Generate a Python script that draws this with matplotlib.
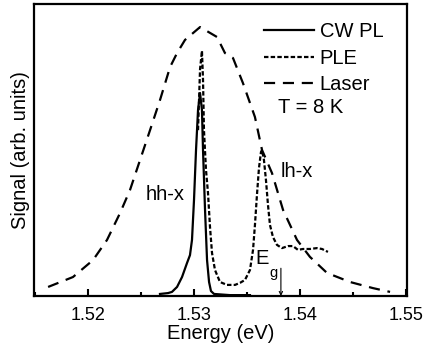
import numpy as np
import matplotlib
matplotlib.use("Agg")
import matplotlib.pyplot as plt
from matplotlib.ticker import MultipleLocator

plt.rcParams['font.family'] = ['Liberation Sans', 'DejaVu Sans']

# CW photoluminescence (solid)
pl_energy = [1.52679, 1.52755, 1.52792, 1.52840, 1.52887, 1.52934, 1.52962,
             1.52981, 1.53000, 1.53019, 1.53038, 1.53057, 1.53075, 1.53085,
             1.53104, 1.53123, 1.53142, 1.53160, 1.53189, 1.53340, 1.53528]
pl_signal = [0.007, 0.010, 0.014, 0.031, 0.065, 0.113, 0.140,
             0.192, 0.329, 0.500, 0.637, 0.695, 0.637, 0.500,
             0.295, 0.123, 0.048, 0.017, 0.007, 0.003, 0.003]

# PLE (short dashes)
ple_energy = [1.53038, 1.53057, 1.53075, 1.53085, 1.53094, 1.53113, 1.53132,
              1.53151, 1.53170, 1.53198, 1.53245, 1.53311, 1.53387, 1.53434,
              1.53481, 1.53528, 1.53557, 1.53575, 1.53594, 1.53613, 1.53632,
              1.53642, 1.53660, 1.53679, 1.53698, 1.53717, 1.53745, 1.53783,
              1.53830, 1.53887, 1.53934, 1.53981, 1.54028, 1.54094, 1.54160,
              1.54208, 1.54264]
ple_signal = [0.568, 0.777, 0.840, 0.740, 0.568, 0.432, 0.353,
              0.236, 0.147, 0.089, 0.048, 0.038, 0.038, 0.045,
              0.055, 0.089, 0.158, 0.243, 0.346, 0.438, 0.493,
              0.500, 0.466, 0.397, 0.312, 0.243, 0.202, 0.175,
              0.164, 0.171, 0.171, 0.158, 0.161, 0.161, 0.164,
              0.161, 0.151]

# laser spectrum (long dashes)
laser_energy = [1.51623, 1.51858, 1.52047, 1.52179, 1.52302, 1.52396, 1.52491,
                1.52585, 1.52679, 1.52774, 1.52840, 1.52915, 1.53057, 1.53217,
                1.53292, 1.53368, 1.53462, 1.53575, 1.53642, 1.53736, 1.53840,
                1.53972, 1.54094, 1.54255, 1.54472, 1.54689, 1.54850]
laser_signal = [0.031, 0.065, 0.123, 0.192, 0.284, 0.363, 0.466,
                0.568, 0.671, 0.784, 0.832, 0.877, 0.921, 0.887,
                0.832, 0.815, 0.729, 0.613, 0.500, 0.421, 0.295,
                0.192, 0.134, 0.079, 0.048, 0.027, 0.014]

eg_energy = 1.5382

fig = plt.figure(figsize=(4.27, 3.49), dpi=100)
ax = fig.add_axes([34 / 427, 1 - 296 / 349, 373 / 427, 292 / 349])

lw = 1.6
ax.plot(pl_energy, pl_signal, color='black', lw=lw, ls='-', label='CW PL')
ax.plot(ple_energy, ple_signal, color='black', lw=lw, ls=(0, (2, 1)),
        label='PLE')
ax.plot(laser_energy, laser_signal, color='black', lw=lw, ls=(0, (5, 3.5)),
        label='Laser')

ax.set_xlim(1.5149, 1.5501)
ax.set_ylim(0, 1)
ax.xaxis.set_minor_locator(MultipleLocator(0.005))
ax.set_xticks([1.52, 1.53, 1.54, 1.55])
ax.set_xticklabels(['1.52', '1.53', '1.54', '1.55'])
ax.tick_params(axis='x', which='major', direction='in', length=5, width=1.5,
               labelsize=13, pad=8)
ax.tick_params(axis='x', which='minor', direction='in', length=3, width=1.5)
ax.set_yticks([])
for sp in ax.spines.values():
    sp.set_linewidth(1.6)

ax.set_xlabel('Energy (eV)', fontsize=14.5, labelpad=0)
ax.set_ylabel('Signal (arb. units)', fontsize=14.5, labelpad=3)

leg = ax.legend(loc='upper right', bbox_to_anchor=(0.936, 0.938), frameon=False,
                fontsize=14.5, handlelength=2.5, handletextpad=0.25,
                labelspacing=0.37, borderpad=0, borderaxespad=0)

ax.text(1.5410, 0.647, 'T = 8 K', fontsize=14.5, ha='center', va='center')
ax.text(1.52726, 0.346, 'hh-x', fontsize=14.5, ha='center', va='center')
ax.text(1.53972, 0.428, 'lh-x', fontsize=14.5, ha='center', va='center')
ax.text(1.53646, 0.127, 'E', fontsize=14.5, ha='center', va='center')
ax.text(1.5375, 0.079, 'g', fontsize=10.5, ha='center', va='center')
ax.annotate('', xy=(eg_energy, 0.0), xytext=(eg_energy, 0.095),
            arrowprops=dict(arrowstyle='->', lw=0.8, color='black',
                            mutation_scale=6, shrinkA=0, shrinkB=0))

fig.savefig('out.png', dpi=100)
